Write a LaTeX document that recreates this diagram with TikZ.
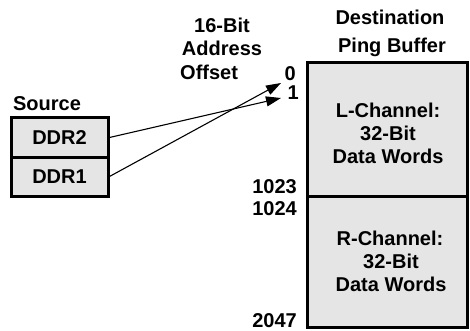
\documentclass[tikz,border=0pt]{standalone}
\usepackage{fontspec}
\setmainfont{Liberation Sans}
\usetikzlibrary{arrows.meta}
\begin{document}
\begin{tikzpicture}[x=1pt,y=-1pt,
  lbl/.style={font=\fontsize{20}{24}\selectfont\bfseries, text=black, inner sep=0pt},
  boxfill/.style={draw=black, line width=3pt, fill=black!10},
  srcbox/.style={draw=black, line width=3pt, fill=black!10, minimum width=97pt, minimum height=39pt, inner sep=0pt, font=\fontsize{20}{24}\selectfont\bfseries, text=black},
  arr/.style={line width=1.1pt, -{Triangle[length=15pt,width=10pt]}}]
\useasboundingbox (0,0) rectangle (470,331);
% destination buffer
\draw[boxfill] (307,63) rectangle (467,196);
\draw[boxfill] (307,196) rectangle (467,327);
\node[lbl] (lch) at (388,110) {L-Channel:};
\node[lbl] (l32) at (388,133) {32-Bit};
\node[lbl] (lda) at (388,156) {Data Words};
\node[lbl] (rch) at (390,238) {R-Channel:};
\node[lbl] (r32) at (391,261) {32-Bit};
\node[lbl] (rda) at (391,284) {Data Words};
\node[lbl] (dest) at (390,17) {Destination};
\node[lbl] (ping) at (392,47) {Ping Buffer};
% offset labels
\node[lbl, anchor=east] (n0) at (296,74) {0};
\node[lbl, anchor=east] (n1) at (299,93) {1};
\node[lbl, anchor=east] (n1023) at (297,187) {1023};
\node[lbl, anchor=east] (n1024) at (297,209) {1024};
\node[lbl, anchor=base east] (n2047) at (297,327) {2047};
\node[lbl] (t16) at (222,25) {16-Bit};
\node[lbl] (tad) at (222,48) {Address};
\node[lbl, anchor=west] (tof) at (180,72) {Offset};
% source
\node[lbl] (src) at (47,104) {Source};
\node[srcbox] (ddr2) at (59.5,137.5) {DDR2};
\node[srcbox] (ddr1) at (59.5,176.5) {DDR1};
\coordinate (tip0) at (281,83);
\coordinate (tip1) at (281,98);
\draw[arr] (ddr2.east) -- (tip1);
\draw[arr] (ddr1.east) -- (tip0);
\end{tikzpicture}
\end{document}
